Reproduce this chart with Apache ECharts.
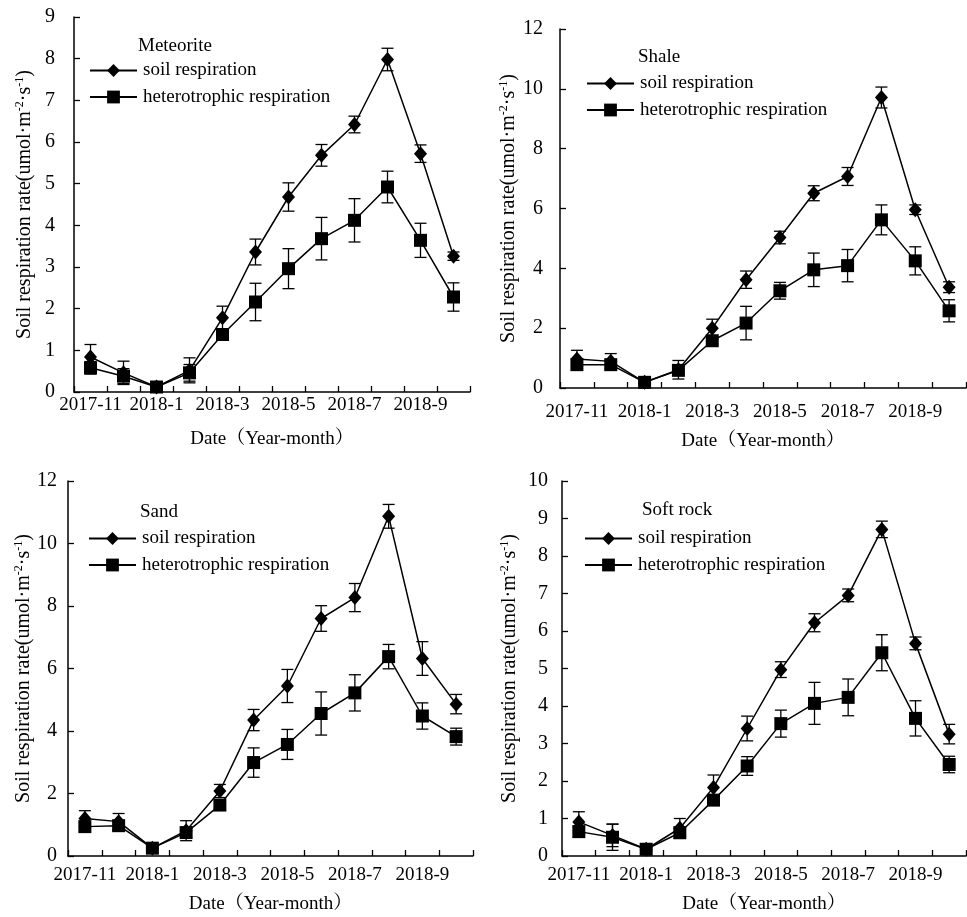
<!DOCTYPE html>
<html>
<head>
<meta charset="utf-8">
<script src="https://cdn.jsdelivr.net/npm/echarts@6/dist/echarts.min.js"></script>
<style>html,body{margin:0;padding:0;background:#fff}#c{width:967px;height:917px}</style>
</head>
<body>
<div id="c"></div>
<script>
// ---- data ----
const categories = ["2017-11","2017-12","2018-1","2018-2","2018-3","2018-4","2018-5","2018-6","2018-7","2018-8","2018-9","2018-10"];
const panelTitles = ["Meteorite","Shale","Sand","Soft rock"];
const seriesNames = ["soil respiration","heterotrophic respiration"];

const meteoriteSoil    = [0.84,0.46,0.12,0.52,1.78,3.36,4.68,5.68,6.42,7.98,5.72,3.26];
const meteoriteSoilErr = [0.30,0.28,0.05,0.30,0.28,0.31,0.34,0.26,0.20,0.27,0.21,0.10];
const meteoriteHet     = [0.58,0.38,0.12,0.46,1.38,2.16,2.96,3.68,4.12,4.92,3.64,2.28];
const meteoriteHetErr  = [0.15,0.18,0.05,0.20,0.10,0.45,0.48,0.51,0.52,0.38,0.41,0.34];

const shaleSoil    = [0.97,0.89,0.19,0.61,2.00,3.62,5.03,6.51,7.07,9.71,5.96,3.37];
const shaleSoilErr = [0.29,0.26,0.05,0.31,0.30,0.29,0.21,0.25,0.30,0.35,0.16,0.18];
const shaleHet     = [0.78,0.78,0.19,0.59,1.58,2.17,3.25,3.95,4.09,5.62,4.25,2.58];
const shaleHetErr  = [0.15,0.15,0.05,0.15,0.12,0.56,0.28,0.56,0.54,0.50,0.47,0.37];

const sandSoil    = [1.20,1.10,0.25,0.81,2.08,4.35,5.44,7.60,8.27,10.87,6.32,4.86];
const sandSoilErr = [0.25,0.26,0.05,0.32,0.21,0.34,0.53,0.41,0.45,0.38,0.54,0.31];
const sandHet     = [0.94,0.97,0.25,0.75,1.63,2.99,3.57,4.56,5.22,6.38,4.48,3.82];
const sandHetErr  = [0.15,0.15,0.05,0.15,0.12,0.47,0.48,0.69,0.58,0.39,0.42,0.27];

const softSoil    = [0.91,0.55,0.18,0.74,1.83,3.40,4.97,6.22,6.95,8.71,5.67,3.25];
const softSoilErr = [0.27,0.30,0.05,0.26,0.33,0.33,0.21,0.24,0.17,0.22,0.17,0.26];
const softHet     = [0.65,0.50,0.18,0.62,1.49,2.40,3.53,4.07,4.23,5.42,3.67,2.44];
const softHetErr  = [0.15,0.35,0.05,0.15,0.12,0.25,0.36,0.56,0.49,0.48,0.47,0.22];

const yMax      = [9, 12, 12, 10];
const yInterval = [1, 2, 2, 1];

// ---- layout (not data) ----
const FONT = "'Liberation Serif','Times New Roman',serif";
const FONT_CJK = "'Liberation Serif','Times New Roman','Noto Serif CJK SC','Noto Sans CJK SC',serif";
const layout = [
  {grid:{left:74,top:17,width:396,height:375}, xLabelMargin:4, xNameGap:38, yLabelMargin:19, yNameGap:38,
   title:{left:138,top:37}, legend:{left:89,top:61}},
  {grid:{left:560,top:29,width:406,height:359}, xLabelMargin:15, xNameGap:44, yLabelMargin:17, yNameGap:40,
   title:{left:638,top:48}, legend:{left:586,top:74}},
  {grid:{left:68,top:481,width:405,height:375}, xLabelMargin:10, xNameGap:39, yLabelMargin:11, yNameGap:33,
   title:{left:140,top:503}, legend:{left:88,top:529}},
  {grid:{left:562,top:481,width:404,height:375}, xLabelMargin:10, xNameGap:39, yLabelMargin:14, yNameGap:41,
   title:{left:642,top:501}, legend:{left:584,top:529}}
];

const panelData = [
  [meteoriteSoil, meteoriteSoilErr, meteoriteHet, meteoriteHetErr],
  [shaleSoil, shaleSoilErr, shaleHet, shaleHetErr],
  [sandSoil, sandSoilErr, sandHet, sandHetErr],
  [softSoil, softSoilErr, softHet, softHetErr]
];

const grids=[], xAxes=[], yAxes=[], series=[], titles=[], legends=[];

function errRender(params, api){
  const x = api.value(0);
  const lo = api.coord([x, api.value(1)]);
  const hi = api.coord([x, api.value(2)]);
  const hw = 6;
  const st = {stroke:'#000', lineWidth:1.3};
  return {type:'group', children:[
    {type:'line', shape:{x1:lo[0],y1:lo[1],x2:hi[0],y2:hi[1]}, style:st},
    {type:'line', shape:{x1:hi[0]-hw,y1:hi[1],x2:hi[0]+hw,y2:hi[1]}, style:st},
    {type:'line', shape:{x1:lo[0]-hw,y1:lo[1],x2:lo[0]+hw,y2:lo[1]}, style:st}
  ]};
}

layout.forEach((L, i) => {
  grids.push(Object.assign({outerBoundsMode:'none', containLabel:false}, L.grid));
  xAxes.push({
    type:'category', gridIndex:i, data:categories, boundaryGap:true,
    name:'Date（Year-month）', nameLocation:'middle', nameGap:L.xNameGap, nameMoveOverlap:false,
    nameTextStyle:{fontFamily:FONT_CJK, fontSize:19, color:'#000'},
    axisLine:{lineStyle:{color:'#000', width:1.5}},
    axisTick:{show:true, inside:true, length:6, interval:0, lineStyle:{color:'#000', width:1.3}},
    axisLabel:{interval:1, margin:L.xLabelMargin, fontFamily:FONT, fontSize:19, color:'#000', hideOverlap:false},
    splitLine:{show:false}
  });
  yAxes.push({
    type:'value', gridIndex:i, min:0, max:yMax[i], interval:yInterval[i],
    name:'{a|Soil respiration rate(umol·m}{s|-2}{a|·s}{s|-1}{a|)}',
    nameLocation:'middle', nameGap:L.yNameGap, nameMoveOverlap:false,
    nameTextStyle:{fontFamily:FONT, fontSize:20, color:'#000',
      rich:{a:{fontFamily:FONT, fontSize:20, color:'#000', lineHeight:22},
            s:{fontFamily:FONT, fontSize:12, color:'#000', verticalAlign:'top', lineHeight:12}}},
    axisLine:{show:true, lineStyle:{color:'#000', width:1.5}},
    axisTick:{show:true, inside:true, length:6, lineStyle:{color:'#000', width:1.3}},
    axisLabel:{margin:L.yLabelMargin, fontFamily:FONT, fontSize:20, color:'#000'},
    splitLine:{show:false}
  });
  titles.push({text:panelTitles[i], left:L.title.left, top:L.title.top, padding:0,
    textStyle:{fontFamily:FONT, fontSize:19, fontWeight:'normal', color:'#000'}});
  legends.push({
    orient:'vertical', left:L.legend.left, top:L.legend.top, padding:0,
    itemWidth:47, itemHeight:16, itemGap:7.5, selectedMode:false,
    data:seriesNames,
    textStyle:{fontFamily:FONT, fontSize:19, color:'#000', padding:[0,0,0,1]}
  });
  const d = panelData[i];
  const pairs = [[d[0], d[1], 'diamond', [13,15]], [d[2], d[3], 'rect', 13]];
  pairs.forEach((p, k) => {
    series.push({
      type:'custom', xAxisIndex:i, yAxisIndex:i, z:3, silent:true,
      renderItem:errRender,
      data:p[0].map((v, j) => [j, v - p[1][j], v + p[1][j]])
    });
    series.push({
      type:'line', name:seriesNames[k], xAxisIndex:i, yAxisIndex:i, z:4,
      data:p[0], symbol:p[2], symbolSize:p[3], showAllSymbol:true,
      lineStyle:{color:'#000', width:1.5}, itemStyle:{color:'#000', borderWidth:0},
      emphasis:{disabled:true}, animation:false
    });
  });
});

const chart = echarts.init(document.getElementById('c'), null, {renderer:'canvas'});
chart.setOption({
  backgroundColor:'#fff', animation:false,
  title:titles, legend:legends, grid:grids, xAxis:xAxes, yAxis:yAxes, series:series
});
</script>
</body>
</html>
